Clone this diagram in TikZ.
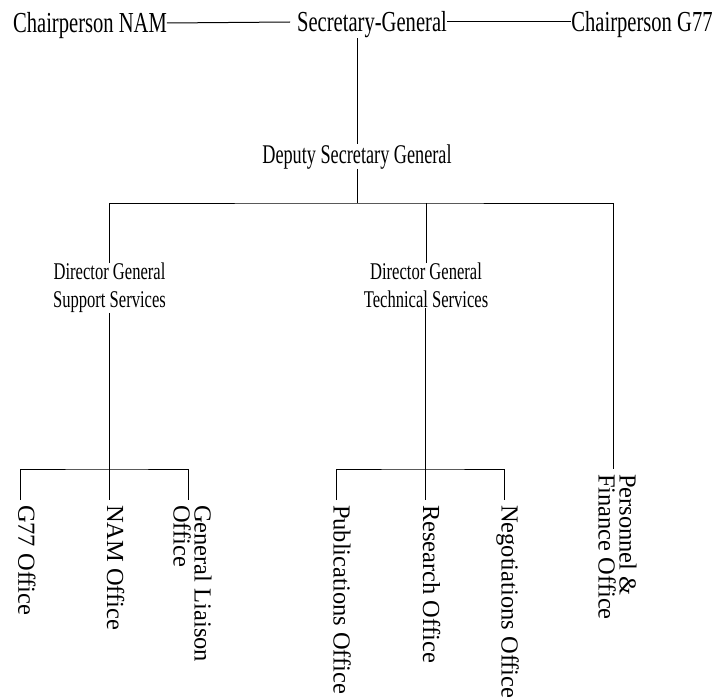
\documentclass[tikz,border=0pt]{standalone}
\usepackage{fontspec}
\setmainfont{Liberation Serif}
\newfontfamily\condtop[FakeStretch=0.71]{Liberation Serif}
\newfontfamily\condmid[FakeStretch=0.675]{Liberation Serif}
\newfontfamily\conddg[FakeStretch=0.69]{Liberation Serif}
\begin{document}
\begin{tikzpicture}[x=1pt,y=-1pt,
  toplabel/.style={font=\condtop\fontsize{29}{32}\selectfont, inner sep=0pt, outer sep=0pt},
  midlabel/.style={font=\condmid\fontsize{27}{30}\selectfont, inner sep=0pt, outer sep=0pt},
  dglabel/.style={font=\conddg\fontsize{24}{28}\selectfont, align=center, inner sep=0pt, outer sep=0pt},
  office/.style={font=\fontsize{24.5}{21}\selectfont, rotate=-90, inner xsep=5pt, inner ysep=0pt, outer sep=0pt, align=left},
  conn/.style={line width=1pt}]
\useasboundingbox (0,0) rectangle (717,698);

\node[toplabel, anchor=base] (nam) at (90,33) {Chairperson NAM};
\node[toplabel, anchor=base] (sg) at (372,32) {Secretary-General};
\node[toplabel, anchor=base] (g77) at (642,32) {Chairperson G77};
\node[midlabel, anchor=base] (dep) at (357,163) {Deputy Secretary General};
\node[dglabel, anchor=north] (dgs) at (109.5,263) {Director General\\Support Services};
\node[dglabel, anchor=north] (dgt) at (426,263) {Director General\\Technical Services};

\node[office, anchor=mid west] (g77o) at (20.7,500) {G77 Office};
\node[office, anchor=mid west] (namo) at (109.3,500) {NAM Office};
\node[office, anchor=west] (glo) at (192.5,500) {General Liaison\\Office};
\node[office, anchor=mid west] (pubo) at (336,500) {Publications Office};
\node[office, anchor=mid west] (reso) at (425.3,500) {Research Office};
\node[office, anchor=mid west] (nego) at (504,500) {Negotiations Office};
\node[office, anchor=west] (pfo) at (617.5,469) {Personnel \&\\Finance Office};

\coordinate (bar) at (357,203);
\coordinate (br1) at (109.3,469);
\coordinate (br2) at (425.3,469);

\draw[conn] ([yshift=10pt]nam.base east) -- ([xshift=-7pt,yshift=10pt]sg.base west);
\draw[conn] ([yshift=10pt]sg.base east) -- ([yshift=10pt]g77.base west);
\draw[conn] (sg.south -| dep.north) -- (dep.north);
\draw[conn] (dep.south) -- (bar);
\draw[conn] (dgs.north) |- (bar) -| ([xshift=-4.5pt]pfo.west);
\draw[conn] (dgt.north) -- (dgt.north |- bar);
\draw[conn] (dgs.south -| namo.mid west) -- (namo.mid west);
\draw[conn] (g77o.mid west) |- (br1) -| ([xshift=-4.5pt]glo.west);
\draw[conn] (dgt.south -| reso.mid west) -- (reso.mid west);
\draw[conn] (pubo.mid west) |- (br2) -| (nego.mid west);
\end{tikzpicture}
\end{document}
